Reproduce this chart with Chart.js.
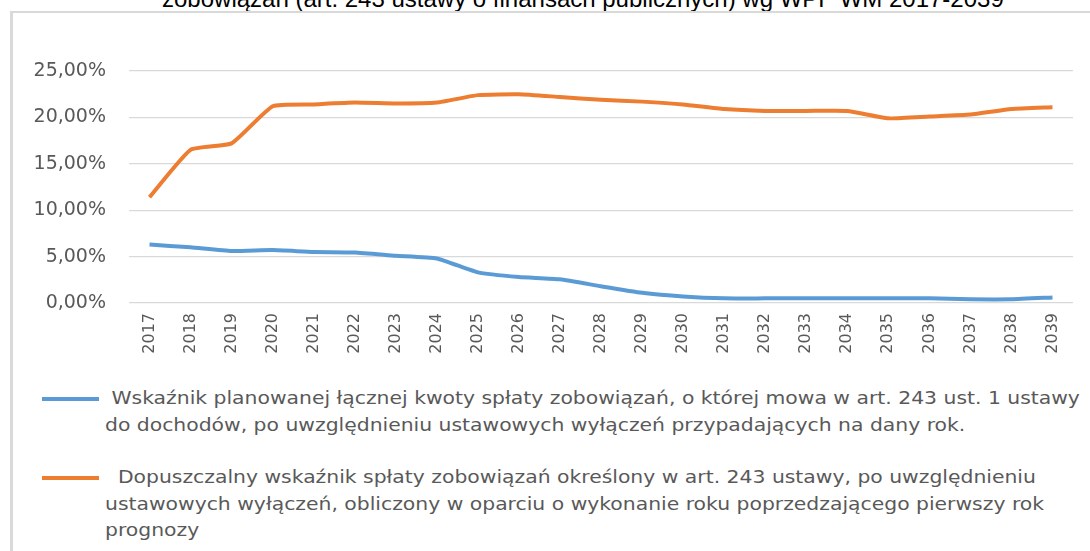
<!DOCTYPE html>
<html>
<head>
<meta charset="utf-8">
<script src="https://cdn.jsdelivr.net/npm/chart.js@4/dist/chart.umd.min.js"></script>
<style>
  body { margin: 0; width: 1090px; height: 551px; overflow: hidden; background: #fff; position: relative; }
  #title { position: absolute; top: -15px; left: 162px; text-align: left;
           font: 24px "Liberation Sans", Arial, sans-serif; color: #000; white-space: nowrap; }
  #frame { position: absolute; left: 10px; top: 11px; width: 1100px; height: 600px;
           border-left: 3px solid #d9d9d9; border-top: 2px solid #d9d9d9; }
  #wrap { position: absolute; left: 0; top: 0; width: 1090px; height: 370px; }
  .swatch { position: absolute; left: 42px; width: 57px; height: 4px; }
  .txt { position: absolute; left: 105px; font: 18px "DejaVu Sans", sans-serif; color: #595959;
         line-height: 26.5px; white-space: pre; transform: scaleX(1.13); transform-origin: 0 0; }
</style>
</head>
<body>
<div id="title">zobowiązań (art. 243 ustawy o finansach publicznych) wg WPF WM 2017-2039</div>
<div id="frame"></div>
<div id="wrap"><canvas id="myLineChart"></canvas></div>
<div id="legend"></div>
<script>
// data
var years = ["2017", "2018", "2019", "2020", "2021", "2022", "2023", "2024", "2025", "2026", "2027", "2028",
  "2029", "2030", "2031", "2032", "2033", "2034", "2035", "2036", "2037", "2038", "2039"];

var wskaznikPlanowany = [6.3, 6.0, 5.6, 5.7, 5.5, 5.45, 5.1, 4.8, 3.3, 2.8, 2.55, 1.8,
  1.1, 0.7, 0.5, 0.5, 0.5, 0.5, 0.5, 0.5, 0.4, 0.4, 0.6];

var wskaznikDopuszczalny = [11.4, 16.5, 17.2, 21.2, 21.4, 21.6, 21.5, 21.6, 22.4, 22.5, 22.2, 21.9,
  21.7, 21.4, 20.9, 20.7, 20.7, 20.7, 19.9, 20.1, 20.3, 20.9, 21.1];

var yTicks = [0, 5, 10, 15, 20, 25];

var legendBlue = [" Wskaźnik planowanej łącznej kwoty spłaty zobowiązań, o której mowa w art. 243 ust. 1 ustawy",
  "do dochodów, po uwzględnieniu ustawowych wyłączeń przypadających na dany rok."];
var legendOrange = ["  Dopuszczalny wskaźnik spłaty zobowiązań określony w art. 243 ustawy, po uwzględnieniu",
  "ustawowych wyłączeń, obliczony w oparciu o wykonanie roku poprzedzającego pierwszy rok",
  "prognozy"];

var blue = "#5b9bd5";
var orange = "#ed7d31";

var ctx = document.getElementById("myLineChart");
var myLineChart = new Chart(ctx, {
  type: "line",
  data: {
    labels: years,
    datasets: [
      {
        label: legendBlue.join(" "),
        legendLines: legendBlue,
        data: wskaznikPlanowany,
        borderColor: blue,
        backgroundColor: blue,
        borderWidth: 4,
        pointRadius: 0,
        tension: 0.15
      },
      {
        label: legendOrange.join(" "),
        legendLines: legendOrange,
        data: wskaznikDopuszczalny,
        borderColor: orange,
        backgroundColor: orange,
        borderWidth: 4,
        pointRadius: 0,
        tension: 0.15
      }
    ]
  },
  options: {
    responsive: true,
    maintainAspectRatio: false,
    animation: false,
    layout: { padding: { left: 0, right: 17, top: 71, bottom: 0 } },
    plugins: {
      legend: { display: false },
      tooltip: { enabled: false }
    },
    scales: {
      x: {
        offset: true,
        grid: { display: false, drawTicks: false },
        border: { display: false },
        ticks: {
          color: "#595959",
          font: { family: "DejaVu Sans", size: 16 },
          minRotation: 90,
          maxRotation: 90,
          padding: 10,
          autoSkip: false
        },
        afterFit: function(scale) { scale.height = 67; }
      },
      y: {
        min: 0,
        max: 25,
        afterBuildTicks: function(scale) {
          scale.ticks = yTicks.map(function(v) { return { value: v }; });
        },
        grid: { color: "#d9d9d9", lineWidth: 1.3, drawTicks: false },
        border: { display: false },
        ticks: {
          color: "#595959",
          font: { family: "DejaVu Sans", size: 19 },
          padding: 23,
          callback: function(v) { return v.toFixed(2).replace(".", ",") + "%"; }
        },
        afterFit: function(scale) { scale.width = 129; }
      }
    }
  }
});

// html legend, built from the datasets
var tops = [385, 464];
var swatchTops = [397, 476];
var legendEl = document.getElementById("legend");
myLineChart.data.datasets.forEach(function(ds, i) {
  var sw = document.createElement("div");
  sw.className = "swatch";
  sw.style.top = swatchTops[i] + "px";
  sw.style.background = ds.borderColor;
  var txt = document.createElement("div");
  txt.className = "txt";
  txt.style.top = tops[i] + "px";
  txt.textContent = ds.legendLines.join("\n");
  legendEl.appendChild(sw);
  legendEl.appendChild(txt);
});
</script>
</body>
</html>
